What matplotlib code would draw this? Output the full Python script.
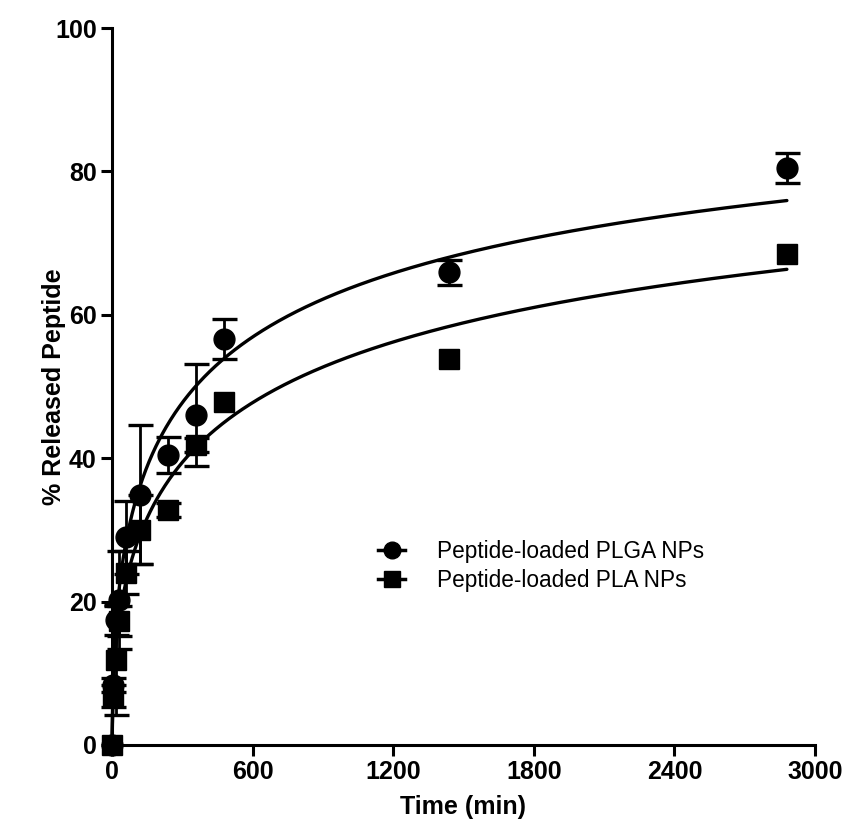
import numpy as np
import matplotlib
matplotlib.use('Agg')
import matplotlib.pyplot as plt
from matplotlib.lines import Line2D

# Dados (tempo em min, % de peptídeo liberado)
tempo = [0, 5, 15, 30, 60, 120, 240, 360, 480, 1440, 2880]
plga = [0, 8.4, 17.4, 20.2, 29.0, 34.9, 40.4, 46.0, 56.6, 65.9, 80.5]
plga_dp = [0, 1.0, 2.1, 6.8, 5.1, 9.7, 2.5, 7.1, 2.8, 1.75, 2.1]
pla = [0, 6.8, 11.8, 17.3, 24.0, 30.0, 32.8, 41.8, 47.9, 53.8, 68.5]
pla_dp = [0, 1.5, 7.6, 2.1, 3.0, 4.8, 1.0, 1.0, 0, 0, 0]

rotulos = ['Peptide-loaded PLGA NPs', 'Peptide-loaded PLA NPs']

# Parâmetros das curvas ajustadas (Y = Bmax*t^h / (K^h + t^h))
ajuste_plga = (105, 430, 0.505)
ajuste_pla = (100, 721, 0.49)
t_fim = 2880

plt.rcParams['font.family'] = ['Liberation Sans', 'DejaVu Sans']

fig = plt.figure(figsize=(8.43, 8.19), dpi=100)
ax = fig.add_axes([112 / 843, 1 - 745 / 819, (815 - 112) / 843, (745 - 28) / 819])

# curvas de ajuste
t = np.linspace(0, t_fim, 600)
for bmax, k, h in [ajuste_plga, ajuste_pla]:
    ax.plot(t, bmax * t ** h / (k ** h + t ** h), color='black', lw=2.4,
            solid_capstyle='round', clip_on=False, zorder=2)

# pontos e barras de erro
for y, dp, marcador in [(plga, plga_dp, 'o'), (pla, pla_dp, 's')]:
    x = np.array(tempo)
    y = np.array(y)
    dp = np.array(dp)
    m = dp > 0
    cont = ax.errorbar(x[m], y[m], yerr=dp[m], fmt='none', ecolor='black',
                       elinewidth=2.0, capsize=9, capthick=2.4, zorder=3)
    for art in cont.get_children():
        art.set_clip_on(False)
    ax.plot(x, y, linestyle='none', marker=marcador, ms=15, color='black',
            clip_on=False, zorder=4)

ax.set_xlim(0, 3000)
ax.set_ylim(0, 100)
ax.set_xticks(range(0, 3001, 600))
ax.set_yticks(range(0, 101, 20))

for lado in ['top', 'right']:
    ax.spines[lado].set_visible(False)
for lado in ['left', 'bottom']:
    ax.spines[lado].set_linewidth(2.2)

ax.tick_params(width=2.2, length=8, labelsize=18, pad=3)
for lbl in ax.get_xticklabels() + ax.get_yticklabels():
    lbl.set_fontweight('bold')

ax.set_xlabel('Time (min)', fontsize=18, fontweight='bold', labelpad=8)
ax.set_ylabel('% Released Peptide', fontsize=18, fontweight='bold')
ax.yaxis.set_label_coords(-0.065, 0.5)

# legenda
alcas = [Line2D([], [], color='black', lw=2.5, marker='o', ms=12),
         Line2D([], [], color='black', lw=2.5, marker='s', ms=12)]
ax.legend(alcas, rotulos, loc='upper left', bbox_to_anchor=(378 / 843, 1 - 540 / 819),
          bbox_transform=fig.transFigure, frameon=False, fontsize=16.25,
          handlelength=1.2, handletextpad=1.4, labelspacing=0.27,
          borderpad=0, borderaxespad=0)

plt.savefig('out.png', dpi=100)
